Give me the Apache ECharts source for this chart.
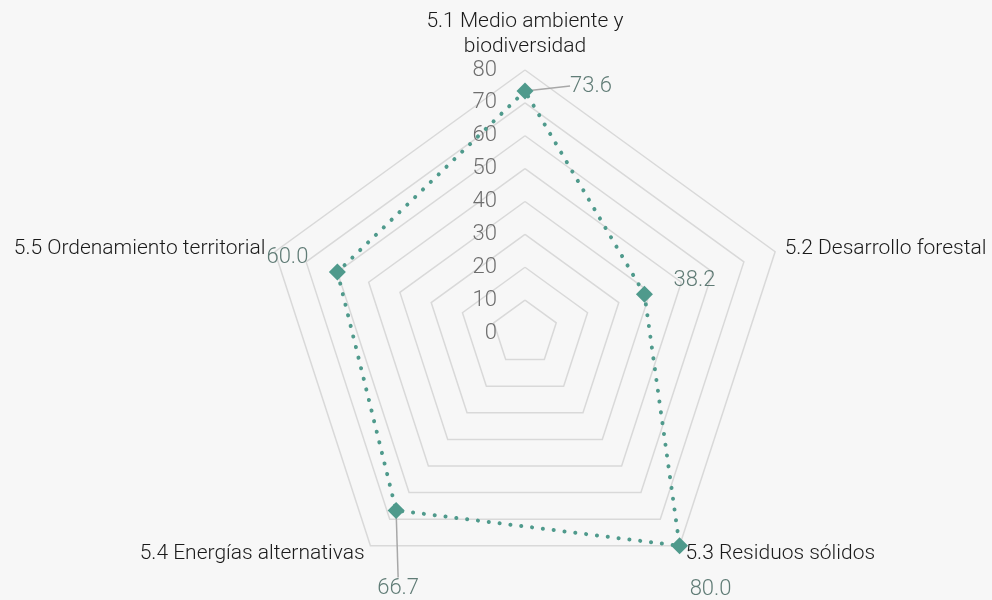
<!DOCTYPE html>
<html>
<head>
<meta charset="utf-8">
<script src="https://cdn.jsdelivr.net/npm/echarts@6/dist/echarts.min.js"></script>
<style>
  html, body { margin: 0; padding: 0; background: #f7f7f7; }
  #chart { width: 992px; height: 600px; }
</style>
</head>
<body>
<div id="chart"></div>
<script>
// Indicator names, in clockwise order starting from the top
const categories = [
  '5.1 Medio ambiente y\nbiodiversidad',
  '5.2 Desarrollo forestal',
  '5.3 Residuos sólidos',
  '5.4 Energías alternativas',
  '5.5 Ordenamiento territorial'
];
const values = [73.6, 38.2, 80.0, 66.7, 60.0];
const axisMin = 0;
const axisMax = 80;
const axisStep = 10;

const FONT = 'Roboto';
const CENTER = [525, 333];
const RADIUS = 263;

// ECharts radar lays out indicators counter-clockwise, so reverse all but the first
const order = [0].concat(categories.map((_, i) => i).slice(1).reverse());

const indicator = order.map((i, k) => {
  const ind = { name: categories[i], min: axisMin, max: axisMax };
  if (k === 0) {
    ind.axisLabel = {
      show: true, color: '#6e6e6e', fontSize: 22, fontFamily: FONT, fontWeight: 300,
      margin: 28, align: 'right', verticalAlign: 'middle', padding: [6, 0, 0, 0]
    };
  }
  return ind;
});

// Value label placement around each vertex (dx, dy) and whether a guide line is drawn
const labelPlacement = [
  { dx: 66, dy: -5, line: true },
  { dx: 50, dy: -14, line: false },
  { dx: 31, dy: 44, line: false },
  { dx: 2, dy: 78, line: true },
  { dx: -50, dy: -15, line: false }
];

const chart = echarts.init(document.getElementById('chart'), null, { renderer: 'canvas' });
chart.setOption({
  backgroundColor: '#f7f7f7',
  animation: false,
  radar: {
    center: CENTER,
    radius: RADIUS,
    startAngle: 90,
    shape: 'polygon',
    splitNumber: (axisMax - axisMin) / axisStep,
    indicator: indicator,
    axisName: { color: '#1a1a1a', fontSize: 21, fontFamily: FONT, fontWeight: 300, lineHeight: 25 },
    nameGap: 10,
    axisLine: { show: false },
    axisTick: { show: false },
    axisLabel: { show: false },
    splitArea: { show: false },
    splitLine: { lineStyle: { color: '#d9d9d9', width: 1.5 } }
  },
  polar: { center: CENTER, radius: RADIUS },
  angleAxis: {
    type: 'value', min: 0, max: categories.length, startAngle: 90, clockwise: true,
    show: false
  },
  radiusAxis: { type: 'value', min: axisMin, max: axisMax, show: false },
  series: [
    {
      type: 'radar',
      symbol: 'diamond',
      symbolSize: 17,
      itemStyle: { color: '#4f9a8c' },
      lineStyle: { color: '#4f9a8c', width: 4, type: [0.1, 10.8], cap: 'round' },
      data: [{ value: order.map(i => values[i]) }]
    },
    {
      type: 'scatter',
      coordinateSystem: 'polar',
      symbol: 'circle',
      symbolSize: 1,
      itemStyle: { color: 'rgba(0,0,0,0)' },
      silent: true,
      data: values.map((v, i) => ({
        value: [v, i],
        labelLine: { show: labelPlacement[i].line }
      })),
      label: {
        show: true,
        position: 'inside',
        formatter: p => p.value[0].toFixed(1),
        color: '#3a5d55',
        fontSize: 22,
        fontFamily: FONT,
        fontWeight: 300
      },
      labelLine: { show: true, lineStyle: { color: '#a8a8a8', width: 1.5 } },
      labelLayout: p => ({ dx: labelPlacement[p.dataIndex].dx, dy: labelPlacement[p.dataIndex].dy })
    }
  ]
});
</script>
</body>
</html>
